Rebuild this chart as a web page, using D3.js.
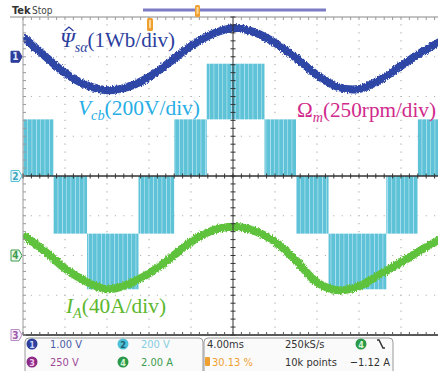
<!DOCTYPE html>
<html>
<head>
<meta charset="utf-8">
<script src="https://cdn.jsdelivr.net/npm/d3@7/dist/d3.min.js"></script>
<style>
  body { margin: 0; background: #fff; }
  svg { display: block; }
  .tek { font-family: "Liberation Sans Narrow", "DejaVu Sans Condensed", "Liberation Sans", sans-serif; }
  .lbl { font-family: "Liberation Serif", "DejaVu Serif", serif; }
</style>
</head>
<body>
<svg id="scope" width="438" height="371"></svg>
<script>
// Sample times (ms) of the traces
const traceTimes = [0, 2, 4, 6, 8, 10, 12, 14, 16, 18, 20, 22, 24, 26, 28, 30, 32, 34, 36, 38, 40];
// Channel 1: estimated stator flux (Wb)
const fluxValues = [0.50, 0.04, -0.41, -0.71, -0.84, -0.76, -0.51, -0.13, 0.27, 0.57, 0.72, 0.62, 0.35, -0.03, -0.46, -0.76, -0.81, -0.58, -0.23, 0.12, 0.42];
// Channel 4: phase current (A)
const currentValues = [21, 5, -13, -26, -34, -29, -18, -3, 14, 25, 29, 25, 14, -5, -27, -35, -31, -19, -7, 6, 18];
// Channel 3: rotor speed (rpm)
const speedTimes = [0, 40];
const speedValues = [1295, 1295];
// Channel 2: line voltage Vcb, PWM blocks [start ms, end ms, low V, high V]
const vcbBlocks = [
  [0.0, 2.9, 0, 285],
  [2.9, 6.1, -290, 0],
  [6.1, 11.0, -570, -290],
  [11.0, 14.4, -290, 0],
  [14.4, 17.5, 0, 285],
  [17.5, 23.0, 285, 565],
  [23.0, 26.0, 0, 285],
  [26.0, 29.1, -290, 0],
  [29.1, 34.6, -570, -290],
  [34.6, 37.6, -290, 0],
  [37.6, 40.0, 0, 285]
];
// Channel settings: units per division and offset (div)
const channels = [
  { n: '1', perDiv: 1, offset: 3 },
  { n: '2', perDiv: 200, offset: 0 },
  { n: '3', perDiv: 250, offset: -4 },
  { n: '4', perDiv: 40, offset: -2 }
];

const svg = d3.select('#scope');
const gLeft = 23, gRight = 443, gTop = 17, gBottom = 335;

// time axis: 4 ms/div, 10 divisions
const x = d3.scaleLinear().domain([0, 40]).range([gLeft, gRight]);
// vertical axis in divisions
const yDiv = d3.scaleLinear().domain([-4, 4]).range([gBottom, gTop]);
function yCh(i) {
  const c = channels[i];
  return v => yDiv(v / c.perDiv + c.offset);
}

const defs = svg.append('defs');
defs.append('clipPath').attr('id', 'plot')
  .append('rect').attr('x', gLeft).attr('y', gTop - 2).attr('width', 438 - gLeft).attr('height', gBottom - gTop + 2);

// striped fill for the PWM blocks
const pat = defs.append('pattern').attr('id', 'pwm')
  .attr('patternUnits', 'userSpaceOnUse').attr('width', 13).attr('height', 10);
pat.append('rect').attr('width', 13).attr('height', 10).attr('fill', '#5fc3d8');
pat.append('rect').attr('x', 1).attr('width', 1).attr('height', 10).attr('fill', '#9ad8e7');
pat.append('rect').attr('x', 5).attr('width', 1.6).attr('height', 10).attr('fill', '#86d0e2');
pat.append('rect').attr('x', 10).attr('width', 1).attr('height', 10).attr('fill', '#a8def0');

// noisy edge for the traces
const f = defs.append('filter').attr('id', 'noise').attr('x', '-5%').attr('y', '-20%').attr('width', '110%').attr('height', '140%');
f.append('feTurbulence').attr('type', 'fractalNoise').attr('baseFrequency', '1.2 0.5').attr('numOctaves', 2).attr('seed', 3).attr('result', 't');
f.append('feDisplacementMap').attr('in', 'SourceGraphic').attr('in2', 't').attr('scale', 4)
  .attr('xChannelSelector', 'R').attr('yChannelSelector', 'G');

// dotted graticule
const grid = svg.append('g');
d3.range(1, 10).filter(i => i !== 5).forEach(i => {
  grid.append('line')
    .attr('x1', x(i * 4)).attr('x2', x(i * 4)).attr('y1', gTop).attr('y2', gBottom)
    .attr('stroke', '#b4b4b4').attr('stroke-width', 1.2).attr('stroke-dasharray', '1.2 6.75')
    .attr('stroke-dashoffset', -7.35);
});
d3.range(-3, 4).filter(i => i !== 0).forEach(i => {
  grid.append('line')
    .attr('x1', gLeft).attr('x2', 438).attr('y1', yDiv(i)).attr('y2', yDiv(i))
    .attr('stroke', '#b4b4b4').attr('stroke-width', 1.2).attr('stroke-dasharray', '1.2 7.2')
    .attr('stroke-dashoffset', -7.8);
});

const plot = svg.append('g').attr('clip-path', 'url(#plot)');

// Vcb PWM blocks
const y2 = yCh(1);
plot.append('g').selectAll('rect').data(vcbBlocks).join('rect')
  .attr('x', d => x(d[0]))
  .attr('width', d => x(d[1]) - x(d[0]))
  .attr('y', d => y2(d[3]))
  .attr('height', d => y2(d[2]) - y2(d[3]))
  .attr('fill', 'url(#pwm)');

// speed trace
const y3 = yCh(2);
plot.append('path')
  .datum(speedTimes.map((t, i) => [t, speedValues[i]]))
  .attr('d', d3.line().x(d => x(d[0])).y(d => y3(d[1])))
  .attr('fill', 'none').attr('stroke', '#c0399c').attr('stroke-width', 5)
  .attr('filter', 'url(#noise)');

// flux trace
const y1 = yCh(0);
plot.append('path')
  .datum(traceTimes.map((t, i) => [t, fluxValues[i]]))
  .attr('d', d3.line().curve(d3.curveCatmullRom).x(d => x(d[0])).y(d => y1(d[1])))
  .attr('fill', 'none').attr('stroke', '#2d46a6').attr('stroke-width', 8)
  .attr('filter', 'url(#noise)');

// current trace
const y4 = yCh(3);
plot.append('path')
  .datum(traceTimes.map((t, i) => [t, currentValues[i]]))
  .attr('d', d3.line().curve(d3.curveCatmullRom).x(d => x(d[0])).y(d => y4(d[1])))
  .attr('fill', 'none').attr('stroke', '#5fc23c').attr('stroke-width', 8)
  .attr('filter', 'url(#noise)');

// frame and centre cross with minor ticks
const frame = svg.append('g');
frame.append('line').attr('x1', 10).attr('x2', 438).attr('y1', gTop).attr('y2', gTop).attr('stroke', '#888');
frame.append('line').attr('x1', gLeft).attr('x2', gLeft).attr('y1', gTop).attr('y2', gBottom).attr('stroke', '#999');
frame.append('line').attr('x1', gLeft).attr('x2', 438).attr('y1', gBottom).attr('y2', gBottom).attr('stroke', '#222').attr('stroke-width', 1.5);
frame.append('line').attr('x1', x(20)).attr('x2', x(20)).attr('y1', gTop).attr('y2', gBottom).attr('stroke', '#333');
frame.append('line').attr('x1', gLeft).attr('x2', 438).attr('y1', yDiv(0)).attr('y2', yDiv(0)).attr('stroke', '#333').attr('stroke-width', 1.3);

const minorX = d3.range(0, 40.01, 0.8);
const minorY = d3.range(-4, 4.01, 0.2);
frame.selectAll('.tx').data(minorX).join('line')
  .attr('x1', d => x(d)).attr('x2', d => x(d))
  .attr('y1', yDiv(0) - 2.5).attr('y2', yDiv(0) + 2.5).attr('stroke', '#333');
frame.selectAll('.tt').data(minorX).join('line')
  .attr('x1', d => x(d)).attr('x2', d => x(d))
  .attr('y1', gTop).attr('y2', gTop + 3).attr('stroke', '#999');
frame.selectAll('.tb').data(minorX).join('line')
  .attr('x1', d => x(d)).attr('x2', d => x(d))
  .attr('y1', gBottom - 3).attr('y2', gBottom).attr('stroke', '#555');
frame.selectAll('.ty').data(minorY).join('line')
  .attr('x1', x(20) - 2.5).attr('x2', x(20) + 2.5)
  .attr('y1', d => yDiv(d)).attr('y2', d => yDiv(d)).attr('stroke', '#333');
frame.selectAll('.tl').data(minorY).join('line')
  .attr('x1', gLeft).attr('x2', gLeft + 3)
  .attr('y1', d => yDiv(d)).attr('y2', d => yDiv(d)).attr('stroke', '#999');

// trace labels
function label(xp, yp, len, color, parts) {
  const t = svg.append('text').attr('class', 'lbl')
    .attr('x', xp).attr('y', yp).attr('fill', color)
    .attr('font-size', 21).attr('textLength', len).attr('lengthAdjust', 'spacingAndGlyphs');
  parts.forEach(p => {
    const s = t.append('tspan').text(p.t);
    if (p.i) s.attr('font-style', 'italic');
    if (p.sub) s.attr('font-size', 14).attr('dy', 5);
    if (p.up) s.attr('dy', -5);
  });
}
label(60, 47, 115, '#2b3e9e', [{ t: 'Ψ', i: 1 }, { t: 'sα', i: 1, sub: 1 }, { t: '(1Wb/div)', up: 1 }]);
// hat over Psi
svg.append('path').attr('d', 'M64.5,31 L69,27 L73.5,31')
  .attr('fill', 'none').attr('stroke', '#2b3e9e').attr('stroke-width', 1.3);
label(78, 115, 122, '#27aee6', [{ t: 'V', i: 1 }, { t: 'cb', i: 1, sub: 1 }, { t: '(200V/div)', up: 1 }]);
label(297, 117, 139, '#d12a8c', [{ t: 'Ω' }, { t: 'm', i: 1, sub: 1 }, { t: '(250rpm/div)', up: 1 }]);
label(66, 313, 100, '#5cb82e', [{ t: 'I', i: 1 }, { t: 'A', i: 1, sub: 1 }, { t: '(40A/div)', up: 1 }]);

// channel markers on the left edge
const markers = [
  { n: '1', y: yDiv(3), fill: '#2c3c98', stroke: '#2c3c98', text: '#dfe6ff' },
  { n: '2', y: yDiv(0), fill: '#eaf8fb', stroke: '#5bbfd4', text: '#3aa5bd' },
  { n: '4', y: yDiv(-2), fill: '#eef9ee', stroke: '#3d9a4e', text: '#3d9a4e' },
  { n: '3', y: yDiv(-4), fill: '#f6eef8', stroke: '#b98cc6', text: '#9a5aa8' }
];
const mk = svg.append('g').attr('class', 'tek');
markers.forEach(m => {
  mk.append('path')
    .attr('d', `M11,${m.y - 5.5} h8 l3,5.5 l-3,5.5 h-8 z`)
    .attr('fill', m.fill).attr('stroke', m.stroke).attr('stroke-width', 1);
  mk.append('text').attr('x', 15.5).attr('y', m.y + 3.5).attr('text-anchor', 'middle')
    .attr('font-size', 10).attr('font-weight', 'bold').attr('fill', m.text).text(m.n);
});

// top status bar
const topBar = svg.append('g').attr('class', 'tek');
topBar.append('text').attr('x', 12).attr('y', 14).attr('font-size', 11).attr('font-weight', 'bold').attr('fill', '#333').text('Tek');
topBar.append('text').attr('x', 32).attr('y', 14).attr('font-size', 10).attr('fill', '#444').text('Stop');
topBar.append('rect').attr('x', 143).attr('y', 8.5).attr('width', 183).attr('height', 3).attr('fill', '#7c7cc6');
topBar.append('rect').attr('x', 195).attr('y', 5).attr('width', 5).attr('height', 12).attr('rx', 1.5).attr('fill', '#f0a030');
topBar.append('rect').attr('x', 196.5).attr('y', 7).attr('width', 2).attr('height', 7).attr('fill', '#fbd79a');
topBar.append('rect').attr('x', 147).attr('y', 18).attr('width', 6).attr('height', 13).attr('rx', 1.5).attr('fill', '#f0a030');
topBar.append('rect').attr('x', 149).attr('y', 20).attr('width', 2).attr('height', 8).attr('fill', '#fbd79a');

// bottom settings panels
const panel = svg.append('g').attr('class', 'tek').attr('font-size', 11);
panel.append('rect').attr('x', 25).attr('y', 338).attr('width', 178).attr('height', 40).attr('rx', 4)
  .attr('fill', '#fafafa').attr('stroke', '#9a9a9a');
panel.append('rect').attr('x', 204).attr('y', 338).attr('width', 189).attr('height', 40).attr('rx', 4)
  .attr('fill', '#fafafa').attr('stroke', '#9a9a9a');

const chanInfo = [
  { n: '1', cx: 32, cy: 344, fill: '#2e3f9c', tc: '#c8d4ff', label: '1.00 V', lc: '#4a5aa8' },
  { n: '3', cx: 32, cy: 362, fill: '#8a2a84', tc: '#f3c8ee', label: '250 V', lc: '#a04a98' },
  { n: '2', cx: 123, cy: 344, fill: '#4ec0d8', tc: '#1d5f70', label: '200 V', lc: '#86cde0' },
  { n: '4', cx: 123, cy: 362, fill: '#2a9a4a', tc: '#d6f5d6', label: '2.00 A', lc: '#3c9a50' }
];
chanInfo.forEach(c => {
  panel.append('circle').attr('cx', c.cx).attr('cy', c.cy).attr('r', 5.5).attr('fill', c.fill);
  panel.append('text').attr('x', c.cx).attr('y', c.cy + 3.5).attr('text-anchor', 'middle')
    .attr('font-size', 9).attr('font-weight', 'bold').attr('fill', c.tc).text(c.n);
  panel.append('text').attr('x', c.cx + 18).attr('y', c.cy + 4).attr('fill', c.lc).text(c.label);
});

panel.append('text').attr('x', 207).attr('y', 348).attr('fill', '#333').text('4.00ms');
panel.append('rect').attr('x', 205).attr('y', 357).attr('width', 5).attr('height', 9).attr('rx', 1).attr('fill', '#f0a030');
panel.append('text').attr('x', 212).attr('y', 366).attr('fill', '#f0a030').text('30.13 %');
panel.append('text').attr('x', 285).attr('y', 348).attr('fill', '#333').text('250kS/s');
panel.append('text').attr('x', 285).attr('y', 366).attr('fill', '#333').text('10k points');
panel.append('circle').attr('cx', 361).attr('cy', 344).attr('r', 5.5).attr('fill', '#2a9a4a');
panel.append('text').attr('x', 361).attr('y', 347.5).attr('text-anchor', 'middle')
  .attr('font-size', 9).attr('font-weight', 'bold').attr('fill', '#d6f5d6').text('4');
panel.append('path').attr('d', 'M377,340 h2 l4,8 h2').attr('fill', 'none').attr('stroke', '#333').attr('stroke-width', 1.5);
panel.append('text').attr('x', 390).attr('y', 366).attr('text-anchor', 'end').attr('fill', '#333').text('\u22121.12 A');
</script>
</body>
</html>
